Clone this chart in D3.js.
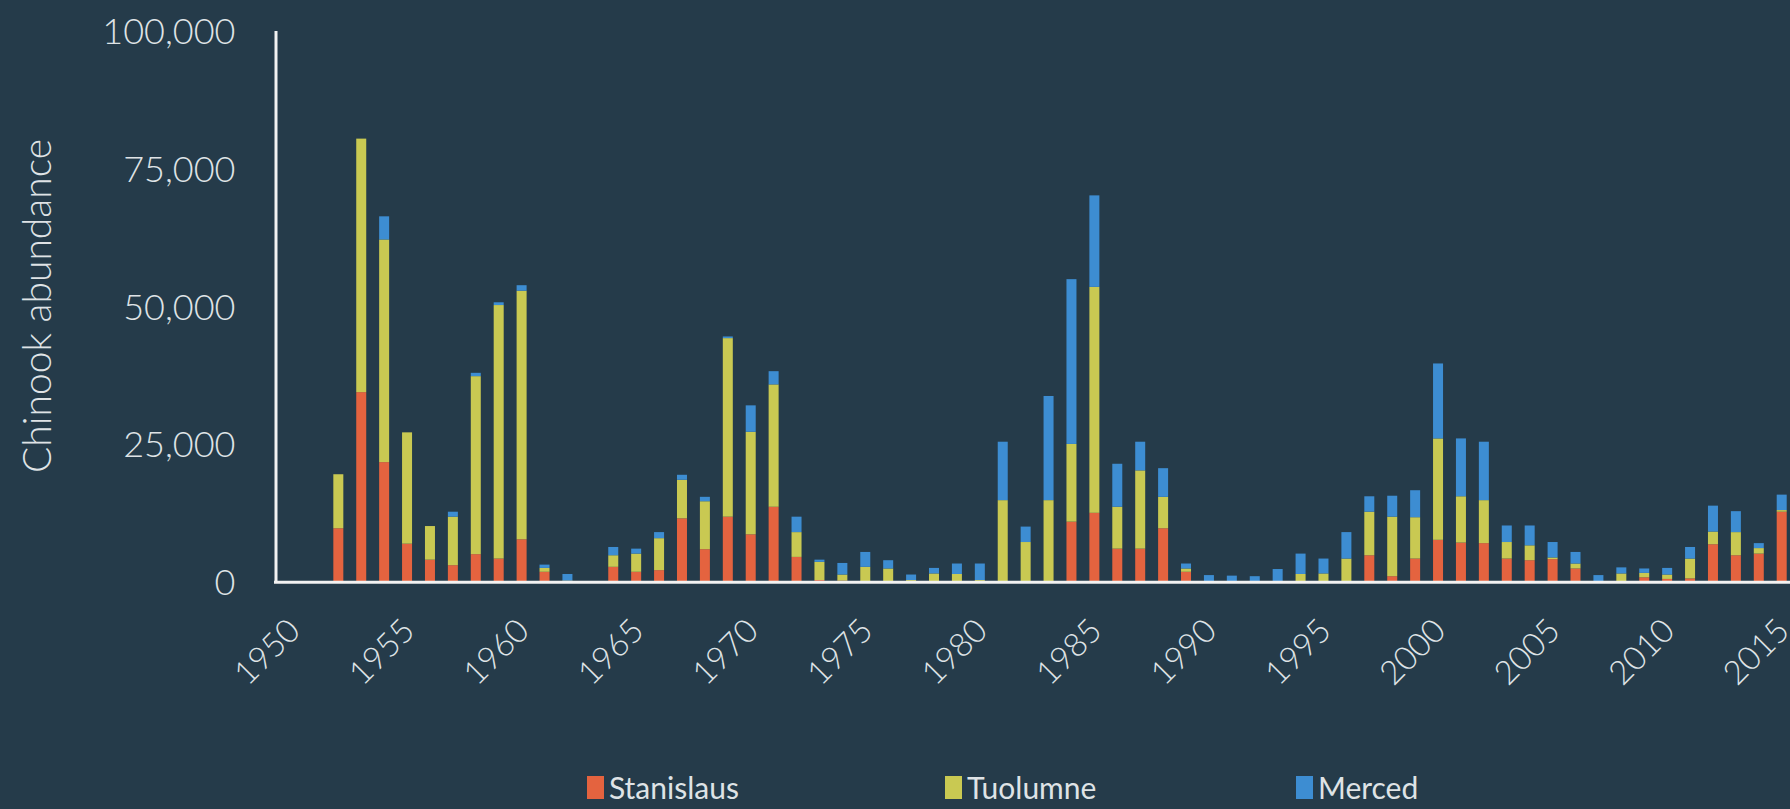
<!DOCTYPE html>
<html>
<head>
<meta charset="utf-8">
<script src="https://cdn.jsdelivr.net/npm/d3@7"></script>
<style>
  html, body { margin: 0; padding: 0; background: #253b4a; }
  #plot { width: 1790px; height: 809px; }
  text { font-family: Lato, "Open Sans", sans-serif; font-weight: 300; fill: #dfe3e6; }
</style>
</head>
<body>
<div id="plot"></div>
<script>
var years = [1952,1953,1954,1955,1956,1957,1958,1959,1960,1961,1962,1963,1964,1965,1966,1967,
  1968,1969,1970,1971,1972,1973,1974,1975,1976,1977,1978,1979,1980,1981,1982,1983,1984,1985,
  1986,1987,1988,1989,1990,1991,1992,1993,1994,1995,1996,1997,1998,1999,2000,2001,2002,2003,
  2004,2005,2006,2007,2008,2009,2010,2011,2012,2013,2014,2015];

var stanislaus = [9700,34400,21700,6900,4000,3000,5000,4200,7700,1800,0,0,2700,1800,2100,11500,
  5900,11800,8600,13600,4500,300,200,0,0,0,0,0,0,0,0,0,10900,12500,
  6000,6000,9700,1800,0,0,0,0,0,0,0,4800,1000,4200,7600,7100,7000,4200,
  3900,4100,2400,0,0,800,500,600,6800,4800,5100,12700];

var tuolumne = [9800,46000,40400,20200,6100,8800,32300,46000,45100,700,200,0,2100,3300,5800,7000,
  8700,32400,18600,22200,4500,3300,1100,2700,2400,300,1500,1400,300,14800,7200,14800,14100,41000,
  7600,14200,5700,600,0,0,0,0,1400,1500,4200,7900,10800,7500,18400,8400,7800,3000,
  2700,300,900,0,1500,800,800,3600,2300,4200,1000,300];

var merced = [0,0,4200,0,0,900,600,500,1000,600,1200,0,1500,900,1100,900,
  800,300,4800,2400,2800,400,2100,2700,1500,1000,1000,1900,3000,10600,2800,18900,29900,16600,
  7800,5200,5200,900,1200,1100,1000,2300,3700,2700,4800,2800,3800,4900,13600,10500,10600,3000,
  3600,2800,2100,1200,1100,800,1200,2100,4700,3800,900,2800];

var rivers = ['Stanislaus','Tuolumne','Merced'];
var colors = ['#e4633f','#c9c952','#3d8dd2'];
var yTicks = [0,25000,50000,75000,100000];
var xTicks = [1950,1955,1960,1965,1970,1975,1980,1985,1990,1995,2000,2005,2010,2015];

var w = 1790, h = 809;
var axisX = 275.5, baseY = 581.7, topY = 30.6;
var barW = 10;

var svg = d3.select('#plot').append('svg')
    .attr('width', w)
    .attr('height', h);

svg.append('rect')
    .attr('width', w)
    .attr('height', h)
    .style('fill', '#253b4a');

var x = d3.scaleLinear()
    .domain([1950, 2015])
    .range([292.5, 1781.7]);

var y = d3.scaleLinear()
    .domain([0, 100000])
    .range([baseY, topY]);

var color = d3.scaleOrdinal()
    .domain(rivers)
    .range(colors);

var table = years.map(function(yr, i){
    return {year: yr, Stanislaus: stanislaus[i], Tuolumne: tuolumne[i], Merced: merced[i]};
});

var series = d3.stack().keys(rivers)(table);

//bars
svg.append('g')
    .attr('class','bars')
    .selectAll('g')
    .data(series)
    .enter()
    .append('g')
    .style('fill', function(d){ return color(d.key); })
    .selectAll('rect')
    .data(function(d){ return d; })
    .enter()
    .append('rect')
    .attr('x', function(d){ return x(d.data.year) - barW/2; })
    .attr('width', barW)
    .attr('y', function(d){ return y(d[1]); })
    .attr('height', function(d){ return y(d[0]) - y(d[1]); });

//y axis
var yAxis = svg.append('g')
    .attr('transform', 'translate(' + axisX + ',0)')
    .call(d3.axisLeft(y)
        .tickValues(yTicks)
        .tickSize(0)
        .tickPadding(40)
        .tickFormat(d3.format(',')));

yAxis.select('.domain')
    .style('stroke', '#f2f2f2')
    .style('stroke-width', 3);

yAxis.selectAll('text')
    .style('font-size', '36px')
    .attr('dy', '0.36em')
    .style('fill', '#dfe3e6');

//x axis
var xAxis = svg.append('g')
    .attr('transform', 'translate(0,' + baseY + ')')
    .call(d3.axisBottom(x)
        .tickValues(xTicks)
        .tickSize(0)
        .tickFormat(d3.format('d')));

xAxis.select('.domain').remove();

xAxis.selectAll('text')
    .attr('x', 0)
    .attr('y', 0)
    .attr('dy', 0)
    .attr('text-anchor', 'end')
    .attr('transform', 'translate(9,51) rotate(-45)')
    .style('font-size', '33px')
    .style('fill', '#dfe3e6');

svg.append('line')
    .attr('x1', axisX - 1.5)
    .attr('x2', w)
    .attr('y1', baseY + 0.5)
    .attr('y2', baseY + 0.5)
    .style('stroke', '#f2f2f2')
    .style('stroke-width', 3);

//y title
svg.append('text')
    .attr('transform', 'translate(51,306) rotate(-90)')
    .attr('text-anchor', 'middle')
    .style('font-size', '39px')
    .text('Chinook abundance');

//legend
var legend = svg.append('g')
    .attr('class','legend')
    .selectAll('g')
    .data(rivers)
    .enter()
    .append('g')
    .attr('transform', function(d, i){ return 'translate(' + [587, 945, 1296][i] + ',776)'; });

legend.append('rect')
    .attr('width', 17)
    .attr('height', 23)
    .style('fill', function(d){ return color(d); });

legend.append('text')
    .attr('x', 22)
    .attr('y', 23)
    .style('font-size', '30px')
    .style('font-weight', 400)
    .text(function(d){ return d; });
</script>
</body>
</html>
